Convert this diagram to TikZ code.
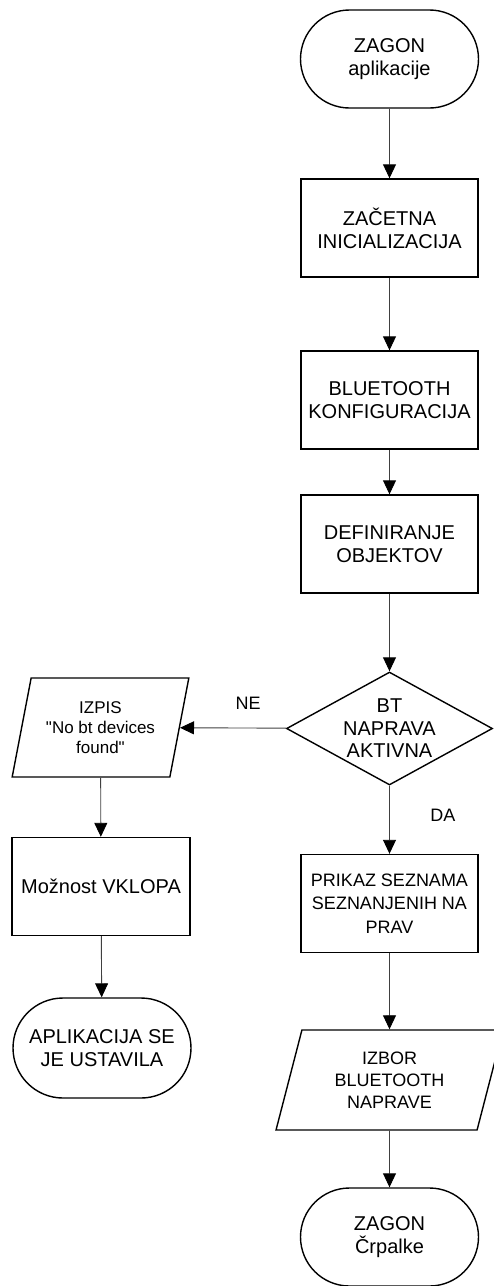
\documentclass[tikz,border=0pt]{standalone}
\usepackage{fontspec}
\setmainfont{Liberation Sans}
\usepackage{tikz}
\usetikzlibrary{shapes,arrows.meta,positioning}

\begin{document}
\begin{tikzpicture}[x=1pt, y=-1pt,
    term/.style={rounded rectangle, draw, line width=1.4pt, minimum width=178pt, minimum height=98pt, inner sep=0pt, align=center, font=\fontsize{20}{23}\selectfont},
    proc/.style={rectangle, draw, line width=1.4pt, minimum width=177pt, minimum height=98pt, inner sep=0pt, align=center, font=\fontsize{20}{23}\selectfont},
    io/.style={trapezium, trapezium left angle=74, trapezium right angle=106, trapezium stretches=true, draw, line width=1.4pt, minimum height=100pt, inner sep=0pt, align=center},
    decision/.style={diamond, draw, line width=1.4pt, minimum width=206pt, minimum height=113pt, inner sep=0pt},
    flow/.style={draw=black!75, line width=0.9pt, -{Triangle[length=14pt, width=13pt, color=black]}},
    lbl/.style={font=\fontsize{18}{20}\selectfont}
]
    \useasboundingbox (0,0) rectangle (493,1286);

    % Main column
    \node[term] (start) at (389.5,59) {ZAGON\\aplikacije};
    \node[proc] (init) at (389.5,228) {ZAČETNA\\INICIALIZACIJA};
    \node[proc] (btconf) at (389.5,400) {BLUETOOTH\\KONFIGURACIJA};
    \node[proc] (objects) at (389.5,544) {DEFINIRANJE\\OBJEKTOV};
    \node[decision, label={[align=center, font=\fontsize{20}{22.5}\selectfont]center:{BT\\NAPRAVA\\AKTIVNA}}] (btcheck) at (389.5,728.5) {};
    \node[proc, font=\fontsize{18}{23.5}\selectfont] (list) at (389.5,903.5) {PRIKAZ SEZNAMA\\SEZNANJENIH NA\\PRAV};
    \node[io, minimum width=227pt, font=\fontsize{18}{22}\selectfont] (choose) at (389.5,1080) {IZBOR\\BLUETOOTH\\NAPRAVE};
    \node[term] (pump) at (389.5,1237) {ZAGON\\Črpalke};

    % Left column
    \node[io, minimum width=177pt, minimum height=99pt, font=\fontsize{17}{20}\selectfont] (nodevices) at (100.5,727.5) {IZPIS\\\textquotedbl No bt devices\\found\textquotedbl};
    \node[proc, minimum width=178pt] (enable) at (101,886.5) {Možnost VKLOPA};
    \node[term, minimum height=100pt] (stopped) at (102,1048) {APLIKACIJA SE\\JE USTAVILA};

    % Connections
    \draw[flow] (start) -- (init);
    \draw[flow] (init) -- (btconf);
    \draw[flow] (btconf) -- (objects);
    \draw[flow] (objects) -- (btcheck);
    \draw[flow] (btcheck) -- (nodevices) node[lbl, pos=0.36, above=15pt] {NE};
    \draw[flow] (btcheck) -- (list) node[lbl, pos=0.43, right=37pt] {DA};
    \draw[flow] (list) -- (choose);
    \draw[flow] (choose) -- (pump);
    \draw[flow] (nodevices) -- (enable);
    \draw[flow] (enable) -- (stopped);
\end{tikzpicture}
\end{document}
